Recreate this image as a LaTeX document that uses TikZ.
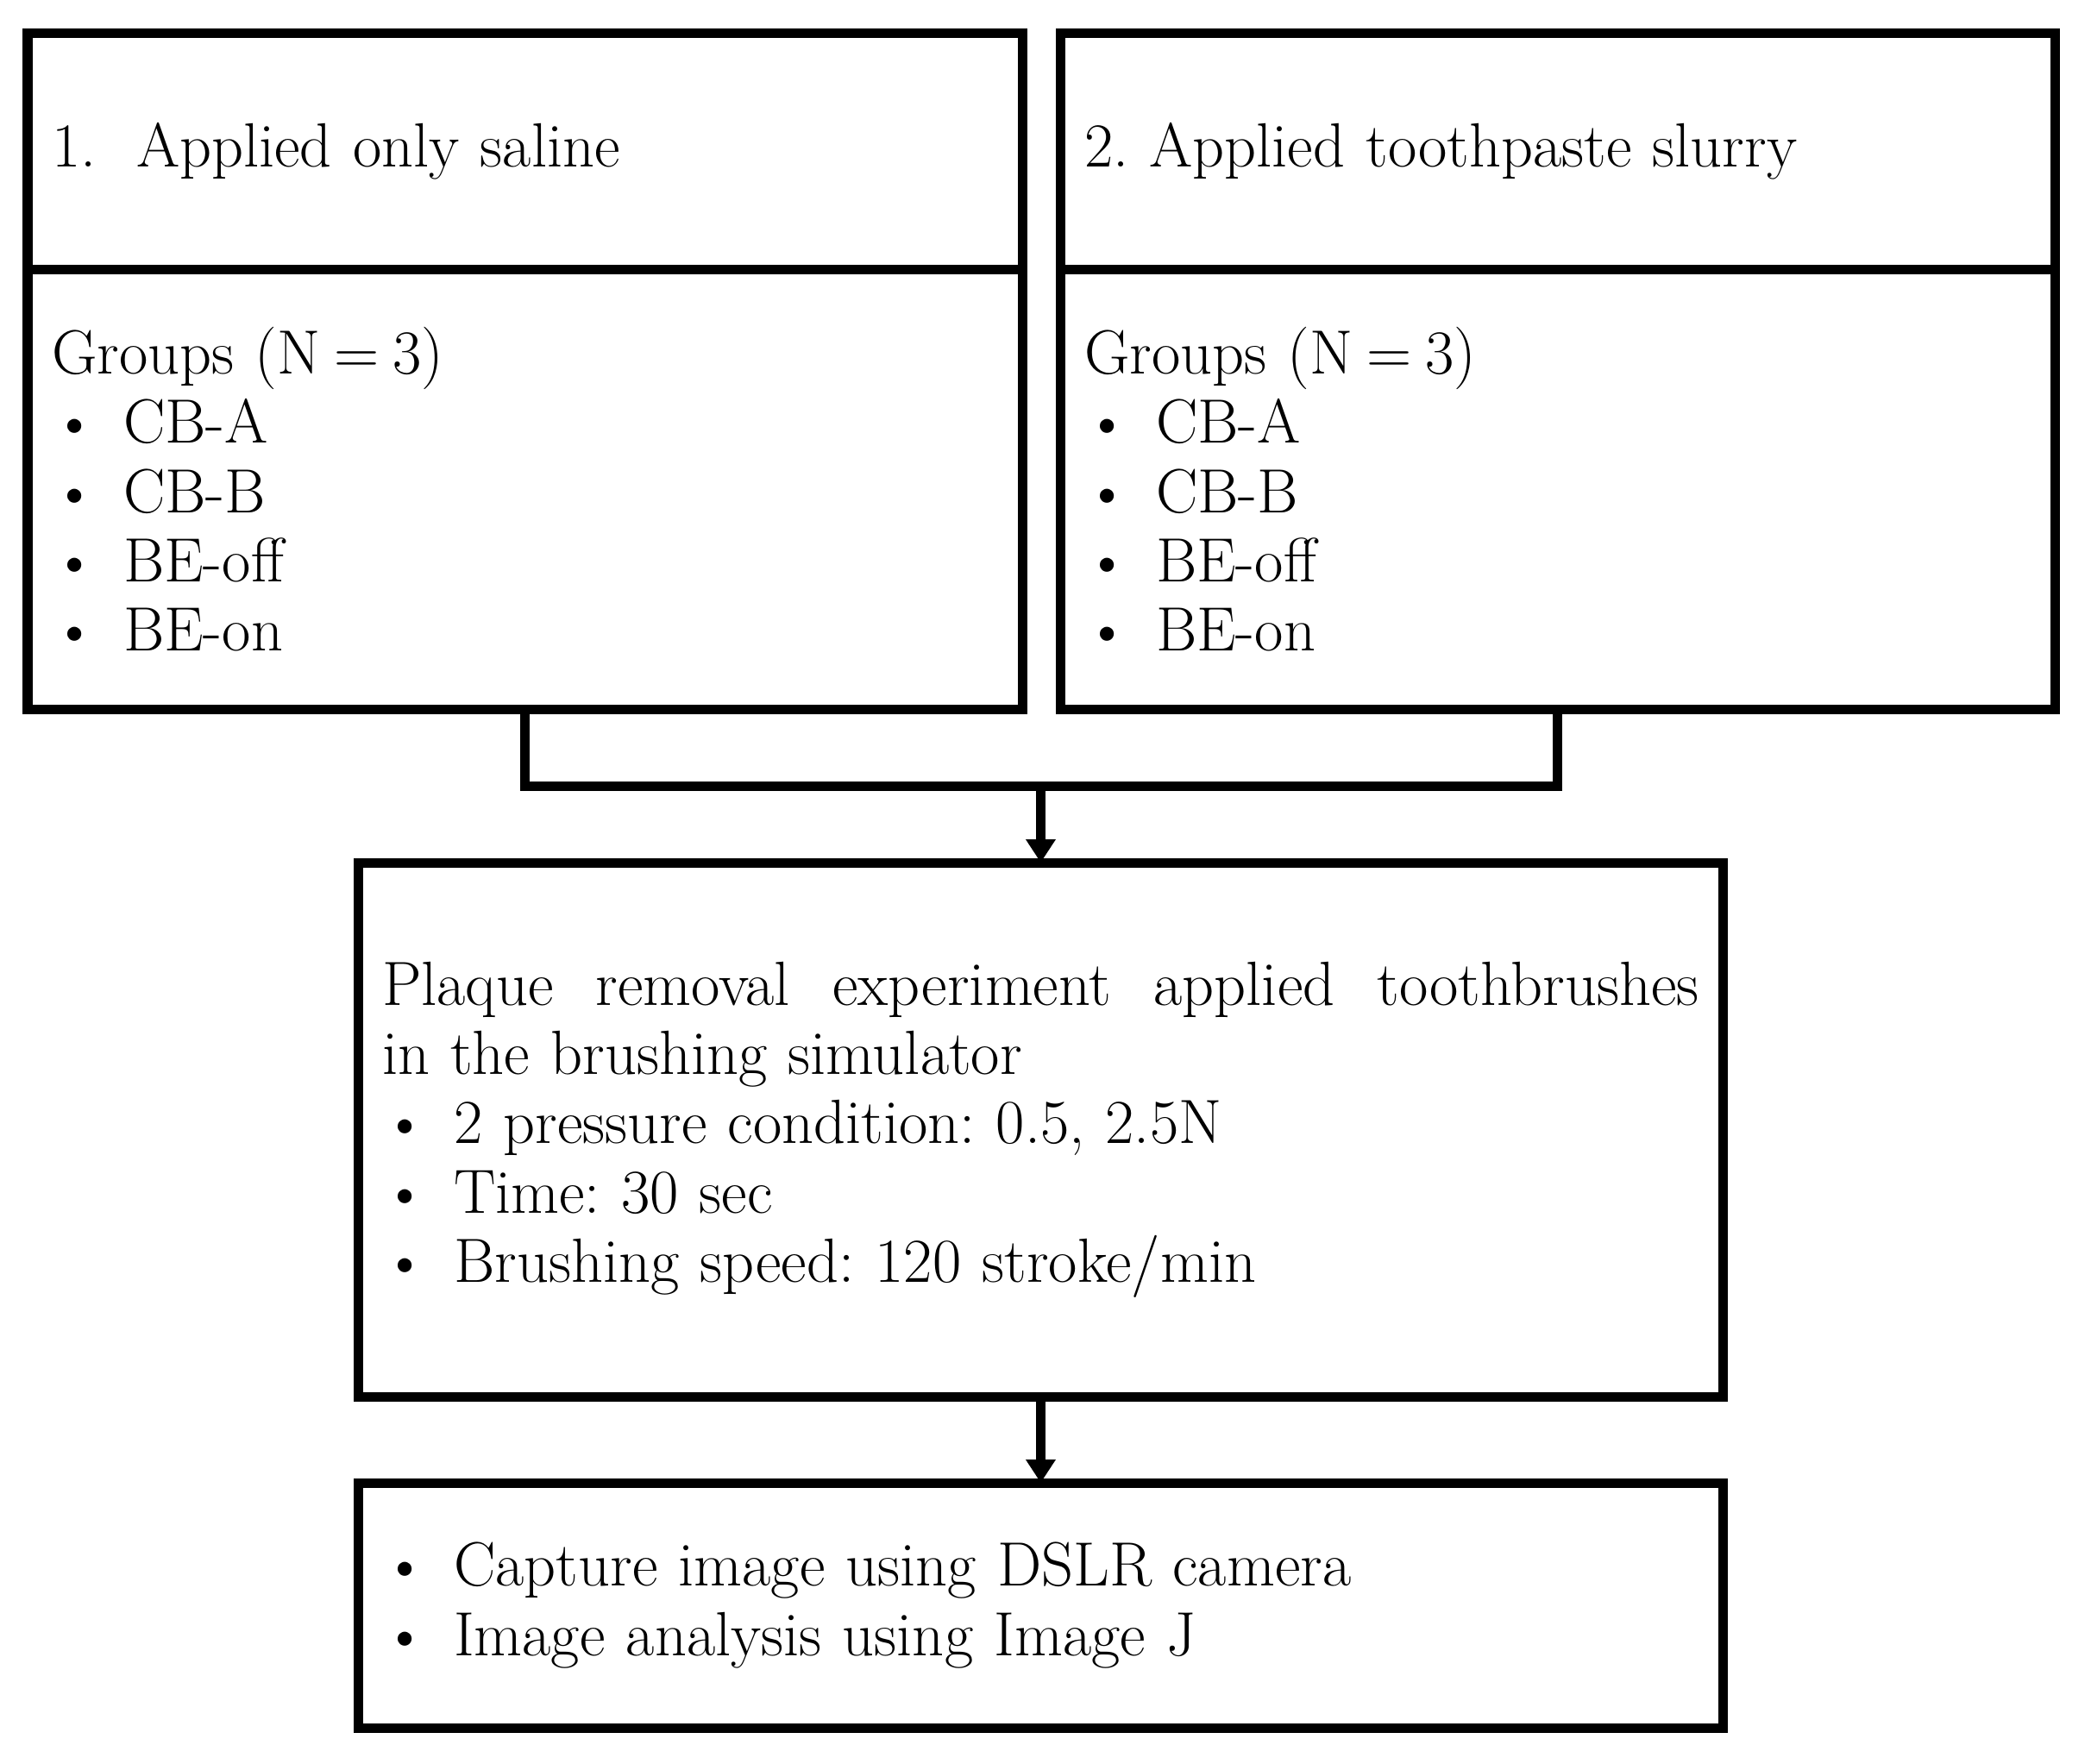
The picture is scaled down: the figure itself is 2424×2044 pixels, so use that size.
\documentclass[tikz,border=0pt]{standalone}
\usetikzlibrary{positioning,arrows.meta}

\tikzset{
  box/.style={draw, line width=0.11cm, inner xsep=0.28cm, inner ysep=0pt,
    outer sep=0pt, align=left, anchor=north west,
    font=\fontsize{20.6}{22.8}\selectfont\frenchspacing},
  flow/.style={line width=0.11cm},
  flowarrow/.style={flow, -{Triangle[length=0.27cm,width=0.33cm]}}
}
\newcommand{\bitem}[1]{\makebox[0.83cm][l]{\textbullet}#1}

\begin{document}
\begin{tikzpicture}[x=0.01cm,y=-0.01cm]
  \useasboundingbox (0,0) rectangle (2424,2044);

  % the two groups
  \node[box, minimum height=2.74cm, text width=10.97cm] (hdrA) at (32,38)
    {\makebox[0.98cm][l]{1.}Applied only saline};
  \node[box, minimum height=5.10cm, text width=10.97cm, below=0pt of hdrA] (lowA)
    {Groups (N\hspace{0.22em}=\hspace{0.22em}3)\\ \bitem{CB-A}\\ \bitem{CB-B}\\ \bitem{BE-off}\\ \bitem{BE-on}};

  \node[box, minimum height=2.74cm, text width=10.97cm] (hdrB) at (1229,38)
    {2. Applied toothpaste slurry};
  \node[box, minimum height=5.10cm, text width=10.97cm, below=0pt of hdrB] (lowB)
    {Groups (N\hspace{0.22em}=\hspace{0.22em}3)\\ \bitem{CB-A}\\ \bitem{CB-B}\\ \bitem{BE-off}\\ \bitem{BE-on}};

  % experiment and analysis
  \node[box, minimum height=6.19cm, text width=15.26cm] (plaque) at (415,1000)
    {\makebox[15.26cm][l]{Plaque\hfill removal\hfill experiment\hfill applied\hfill toothbrushes}\\
     in the brushing simulator\\
     \bitem{2 pressure condition: 0.5, 2.5N}\\
     \bitem{Time: 30 sec}\\
     \bitem{Brushing speed: 120 stroke/min}};
  \node[box, minimum height=2.84cm, text width=15.26cm] (capture) at (415,1719)
    {\bitem{Capture image using DSLR camera}\\
     \bitem{Image analysis using Image J}};

  % connectors
  \coordinate[below=0.89cm of lowA.south] (bar);
  \draw[flow] (lowA.south) -- (bar) -| (lowB.south);
  \draw[flowarrow] (bar -| plaque.north) -- (plaque.north);
  \draw[flowarrow] (plaque.south) -- (capture.north);
\end{tikzpicture}
\end{document}
